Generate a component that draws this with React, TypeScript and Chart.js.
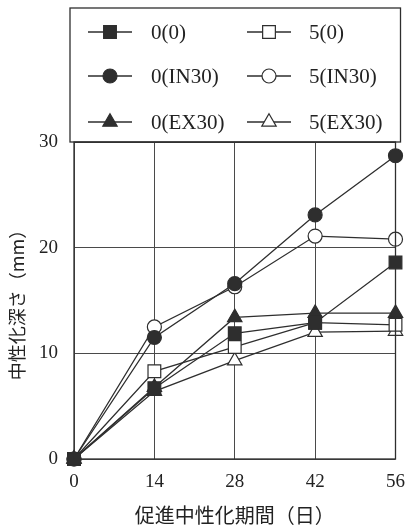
import React, { useEffect, useRef } from 'react';
import { Chart, registerables } from 'chart.js';

Chart.register(...registerables);

const days = [0, 14, 28, 42, 56];
const xTickValues = [0, 14, 28, 42, 56];
const yTickValues = [0, 10, 20, 30];

const seriesLabels = ['0(0)', '5(0)', '0(IN30)', '5(IN30)', '0(EX30)', '5(EX30)'];
const s0_0 = [0, 6.7, 11.9, 12.9, 18.6];
const s5_0 = [0, 8.3, 10.6, 12.9, 12.7];
const s0_IN30 = [0, 11.5, 16.6, 23.1, 28.7];
const s5_IN30 = [0, 12.5, 16.3, 21.1, 20.8];
const s0_EX30 = [0, 6.8, 13.4, 13.8, 13.8];
const s5_EX30 = [0, 6.4, 9.3, 12.0, 12.1];

const seriesValues = [s0_0, s5_0, s0_IN30, s5_IN30, s0_EX30, s5_EX30];
const seriesShapes = ['rect', 'rect', 'circle', 'circle', 'triangle', 'triangle'];
const seriesFilled = [true, false, true, false, true, false];

const INK = '#2e2e2e';
const GRID = '#4a4a4a';

function radiusFor(shape: string) {
  if (shape === 'rect') return 9;
  if (shape === 'triangle') return 8.3;
  return 7;
}

function drawMarker(ctx: CanvasRenderingContext2D, shape: string, filled: boolean, x: number, y: number) {
  const r = radiusFor(shape);
  ctx.beginPath();
  if (shape === 'rect') {
    const s = Math.SQRT1_2 * r;
    ctx.rect(x - s, y - s, 2 * s, 2 * s);
  } else if (shape === 'circle') {
    ctx.arc(x, y, r, 0, Math.PI * 2);
  } else {
    let rad = 0;
    ctx.moveTo(x + Math.sin(rad) * r, y - Math.cos(rad) * r);
    rad += (2 * Math.PI) / 3;
    ctx.lineTo(x + Math.sin(rad) * r, y - Math.cos(rad) * r);
    rad += (2 * Math.PI) / 3;
    ctx.lineTo(x + Math.sin(rad) * r, y - Math.cos(rad) * r);
    ctx.closePath();
  }
  ctx.fillStyle = filled ? INK : '#ffffff';
  ctx.fill();
  ctx.strokeStyle = INK;
  ctx.lineWidth = 1.2;
  ctx.stroke();
}

const framePlugin = {
  id: 'frameAndLegend',
  afterDraw(chart: any) {
    const { ctx, chartArea } = chart;
    const { left, right, top, bottom } = chartArea;
    ctx.save();
    ctx.strokeStyle = INK;
    ctx.lineWidth = 1.3;
    ctx.strokeRect(left, top, right - left, bottom - top);

    // legend box
    const bx = left - 4;
    const by = 8;
    const bw = right - left + 9;
    const bh = top - by;
    ctx.strokeRect(bx, by, bw, bh);

    const colLine = [bx + 18, bx + 177];
    const colText = [bx + 81, bx + 239];
    const rowY = [by + 24, by + 68, by + 114];
    ctx.font = '21px "Liberation Serif"';
    ctx.textBaseline = 'middle';
    ctx.textAlign = 'left';
    chart.data.datasets.forEach((ds: any, i: number) => {
      const col = i % 2;
      const row = Math.floor(i / 2);
      const x0 = colLine[col];
      const y = rowY[row];
      ctx.beginPath();
      ctx.moveTo(x0, y);
      ctx.lineTo(x0 + 44, y);
      ctx.strokeStyle = INK;
      ctx.lineWidth = 1.3;
      ctx.stroke();
      drawMarker(ctx, seriesShapes[i], seriesFilled[i], x0 + 22, y);
      ctx.fillStyle = '#222';
      ctx.fillText(ds.label, colText[col], y + 1);
    });
    ctx.restore();
  },
};

export default function App() {
  const ref = useRef<HTMLCanvasElement | null>(null);

  useEffect(() => {
    if (!ref.current) return;
    const datasets = seriesLabels.map((label, i) => ({
      label,
      data: days.map((d, j) => ({ x: d, y: seriesValues[i][j] })),
      borderColor: INK,
      borderWidth: 1.3,
      pointStyle: seriesShapes[i],
      pointRadius: radiusFor(seriesShapes[i]),
      pointHoverRadius: radiusFor(seriesShapes[i]),
      pointBackgroundColor: seriesFilled[i] ? INK : '#ffffff',
      pointBorderColor: INK,
      pointBorderWidth: 1.2,
      tension: 0,
      fill: false,
      clip: false as any,
    }));

    const chart = new Chart(ref.current, {
      type: 'line',
      data: { datasets: datasets as any },
      plugins: [framePlugin],
      options: {
        animation: false,
        responsive: true,
        maintainAspectRatio: false,
        layout: { padding: { top: 142, right: 15, left: 0, bottom: 0 } },
        plugins: { legend: { display: false }, tooltip: { enabled: false } },
        scales: {
          x: {
            type: 'linear',
            min: 0,
            max: 56,
            afterBuildTicks: (scale: any) => {
              scale.ticks = xTickValues.map((v) => ({ value: v }));
            },
            afterFit: (scale: any) => {
              scale.height = 69;
            },
            grid: { color: GRID, lineWidth: 1, drawTicks: false },
            border: { display: false },
            ticks: {
              color: '#222',
              padding: 12,
              font: { family: '"Liberation Serif"', size: 19 },
              autoSkip: false,
              maxRotation: 0,
            },
            title: {
              display: true,
              text: '促進中性化期間（日）',
              color: '#222',
              font: { family: '"Noto Sans CJK JP"', size: 20 },
              padding: { top: 0, bottom: 1 },
            },
          },
          y: {
            type: 'linear',
            min: 0,
            max: 30,
            afterBuildTicks: (scale: any) => {
              scale.ticks = yTickValues.map((v) => ({ value: v }));
            },
            afterFit: (scale: any) => {
              scale.width = 74;
            },
            grid: { color: GRID, lineWidth: 1, drawTicks: false },
            border: { display: false },
            ticks: {
              color: '#222',
              padding: 16,
              font: { family: '"Liberation Serif"', size: 19 },
            },
            title: {
              display: true,
              text: '中性化深さ（mm）',
              color: '#222',
              font: { family: '"Noto Sans CJK JP"', size: 18 },
              padding: { top: 6, bottom: 0 },
            },
          },
        },
      },
    });
    return () => chart.destroy();
  }, []);

  return (
    <div style={{ position: 'fixed', left: 0, top: 0, width: 417, height: 528, background: '#fff' }}>
      <canvas ref={ref} />
    </div>
  );
}
